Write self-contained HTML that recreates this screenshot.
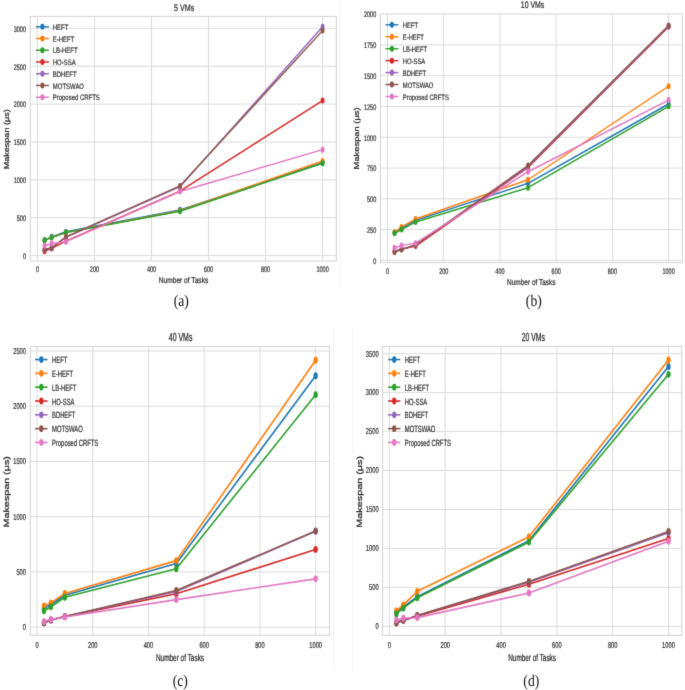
<!DOCTYPE html>
<html><head><meta charset="utf-8"><style>
html,body{margin:0;padding:0;background:#fff;}
svg{display:block;}
text{font-family:"Liberation Sans", sans-serif;text-rendering:geometricPrecision;}
text.serif{font-family:"Liberation Serif", serif;}
</style></head><body>
<svg width="685" height="690" viewBox="0 0 685 690">
<defs><filter id="bl" x="0" y="0" width="685" height="690" filterUnits="userSpaceOnUse" color-interpolation-filters="sRGB"><feConvolveMatrix order="3" kernelMatrix="0.01134 0.08382 0.01134 0.08382 0.61935 0.08382 0.01134 0.08382 0.01134" edgeMode="duplicate" preserveAlpha="false"/></filter></defs>
<g filter="url(#bl)">
<rect width="685" height="690" fill="#fff"/>
<line x1="340.1" y1="0" x2="340.1" y2="289.4" stroke="#f3f3f3" stroke-width="1"/>
<line x1="333.5" y1="327.6" x2="333.5" y2="670.8" stroke="#f4f4f4" stroke-width="1"/>
<line x1="352.9" y1="327.6" x2="352.9" y2="670.8" stroke="#f4f4f4" stroke-width="1"/>
<line x1="37.40" y1="16.40" x2="37.40" y2="261.00" stroke="#dcdcdc" stroke-width="1"/>
<line x1="94.44" y1="16.40" x2="94.44" y2="261.00" stroke="#dcdcdc" stroke-width="1"/>
<line x1="151.48" y1="16.40" x2="151.48" y2="261.00" stroke="#dcdcdc" stroke-width="1"/>
<line x1="208.52" y1="16.40" x2="208.52" y2="261.00" stroke="#dcdcdc" stroke-width="1"/>
<line x1="265.56" y1="16.40" x2="265.56" y2="261.00" stroke="#dcdcdc" stroke-width="1"/>
<line x1="322.60" y1="16.40" x2="322.60" y2="261.00" stroke="#dcdcdc" stroke-width="1"/>
<line x1="30.40" y1="255.60" x2="336.30" y2="255.60" stroke="#dcdcdc" stroke-width="1"/>
<line x1="30.40" y1="217.72" x2="336.30" y2="217.72" stroke="#dcdcdc" stroke-width="1"/>
<line x1="30.40" y1="179.85" x2="336.30" y2="179.85" stroke="#dcdcdc" stroke-width="1"/>
<line x1="30.40" y1="141.97" x2="336.30" y2="141.97" stroke="#dcdcdc" stroke-width="1"/>
<line x1="30.40" y1="104.10" x2="336.30" y2="104.10" stroke="#dcdcdc" stroke-width="1"/>
<line x1="30.40" y1="66.22" x2="336.30" y2="66.22" stroke="#dcdcdc" stroke-width="1"/>
<line x1="30.40" y1="28.35" x2="336.30" y2="28.35" stroke="#dcdcdc" stroke-width="1"/>
<rect x="30.40" y="16.40" width="305.90" height="244.60" fill="none" stroke="#d8d8d8" stroke-width="1.1"/>
<polyline points="44.53,240.07 51.66,236.81 65.92,231.66 180.00,209.85 322.60,162.73" fill="none" stroke="#1f77b4" stroke-width="1.45" stroke-linejoin="round" stroke-linecap="round"/>
<ellipse cx="44.53" cy="240.07" rx="1.95" ry="3.0" fill="#1f77b4"/>
<ellipse cx="51.66" cy="236.81" rx="1.95" ry="3.0" fill="#1f77b4"/>
<ellipse cx="65.92" cy="231.66" rx="1.95" ry="3.0" fill="#1f77b4"/>
<ellipse cx="180.00" cy="209.85" rx="1.95" ry="3.0" fill="#1f77b4"/>
<ellipse cx="322.60" cy="162.73" rx="1.95" ry="3.0" fill="#1f77b4"/>
<polyline points="44.53,240.45 51.66,237.42 65.92,232.57 180.00,210.76 322.60,160.99" fill="none" stroke="#ff7f0e" stroke-width="1.45" stroke-linejoin="round" stroke-linecap="round"/>
<ellipse cx="44.53" cy="240.45" rx="1.95" ry="3.0" fill="#ff7f0e"/>
<ellipse cx="51.66" cy="237.42" rx="1.95" ry="3.0" fill="#ff7f0e"/>
<ellipse cx="65.92" cy="232.57" rx="1.95" ry="3.0" fill="#ff7f0e"/>
<ellipse cx="180.00" cy="210.76" rx="1.95" ry="3.0" fill="#ff7f0e"/>
<ellipse cx="322.60" cy="160.99" rx="1.95" ry="3.0" fill="#ff7f0e"/>
<polyline points="44.53,240.45 51.66,237.57 65.92,232.57 180.00,211.21 322.60,163.19" fill="none" stroke="#2ca02c" stroke-width="1.45" stroke-linejoin="round" stroke-linecap="round"/>
<ellipse cx="44.53" cy="240.45" rx="1.95" ry="3.0" fill="#2ca02c"/>
<ellipse cx="51.66" cy="237.57" rx="1.95" ry="3.0" fill="#2ca02c"/>
<ellipse cx="65.92" cy="232.57" rx="1.95" ry="3.0" fill="#2ca02c"/>
<ellipse cx="180.00" cy="211.21" rx="1.95" ry="3.0" fill="#2ca02c"/>
<ellipse cx="322.60" cy="163.19" rx="1.95" ry="3.0" fill="#2ca02c"/>
<polyline points="44.53,251.21 51.66,248.40 65.92,241.21 180.00,191.06 322.60,100.62" fill="none" stroke="#d62728" stroke-width="1.45" stroke-linejoin="round" stroke-linecap="round"/>
<ellipse cx="44.53" cy="251.21" rx="1.95" ry="3.0" fill="#d62728"/>
<ellipse cx="51.66" cy="248.40" rx="1.95" ry="3.0" fill="#d62728"/>
<ellipse cx="65.92" cy="241.21" rx="1.95" ry="3.0" fill="#d62728"/>
<ellipse cx="180.00" cy="191.06" rx="1.95" ry="3.0" fill="#d62728"/>
<ellipse cx="322.60" cy="100.62" rx="1.95" ry="3.0" fill="#d62728"/>
<polyline points="44.53,249.69 51.66,248.03 65.92,237.42 180.00,186.67 322.60,26.84" fill="none" stroke="#9467bd" stroke-width="1.45" stroke-linejoin="round" stroke-linecap="round"/>
<ellipse cx="44.53" cy="249.69" rx="1.95" ry="3.0" fill="#9467bd"/>
<ellipse cx="51.66" cy="248.03" rx="1.95" ry="3.0" fill="#9467bd"/>
<ellipse cx="65.92" cy="237.42" rx="1.95" ry="3.0" fill="#9467bd"/>
<ellipse cx="180.00" cy="186.67" rx="1.95" ry="3.0" fill="#9467bd"/>
<ellipse cx="322.60" cy="26.84" rx="1.95" ry="3.0" fill="#9467bd"/>
<polyline points="44.53,249.54 51.66,247.80 65.92,236.81 180.00,185.91 322.60,30.62" fill="none" stroke="#8c564b" stroke-width="1.45" stroke-linejoin="round" stroke-linecap="round"/>
<ellipse cx="44.53" cy="249.54" rx="1.95" ry="3.0" fill="#8c564b"/>
<ellipse cx="51.66" cy="247.80" rx="1.95" ry="3.0" fill="#8c564b"/>
<ellipse cx="65.92" cy="236.81" rx="1.95" ry="3.0" fill="#8c564b"/>
<ellipse cx="180.00" cy="185.91" rx="1.95" ry="3.0" fill="#8c564b"/>
<ellipse cx="322.60" cy="30.62" rx="1.95" ry="3.0" fill="#8c564b"/>
<polyline points="44.53,245.75 51.66,243.48 65.92,241.66 180.00,191.52 322.60,149.63" fill="none" stroke="#e377c2" stroke-width="1.45" stroke-linejoin="round" stroke-linecap="round"/>
<ellipse cx="44.53" cy="245.75" rx="1.95" ry="3.0" fill="#e377c2"/>
<ellipse cx="51.66" cy="243.48" rx="1.95" ry="3.0" fill="#e377c2"/>
<ellipse cx="65.92" cy="241.66" rx="1.95" ry="3.0" fill="#e377c2"/>
<ellipse cx="180.00" cy="191.52" rx="1.95" ry="3.0" fill="#e377c2"/>
<ellipse cx="322.60" cy="149.63" rx="1.95" ry="3.0" fill="#e377c2"/>
<line x1="35.90" y1="26.80" x2="48.90" y2="26.80" stroke="#1f77b4" stroke-width="1.45"/>
<ellipse cx="42.40" cy="26.80" rx="2.1" ry="3.0" fill="#1f77b4"/>
<line x1="35.90" y1="38.53" x2="48.90" y2="38.53" stroke="#ff7f0e" stroke-width="1.45"/>
<ellipse cx="42.40" cy="38.53" rx="2.1" ry="3.0" fill="#ff7f0e"/>
<line x1="35.90" y1="50.26" x2="48.90" y2="50.26" stroke="#2ca02c" stroke-width="1.45"/>
<ellipse cx="42.40" cy="50.26" rx="2.1" ry="3.0" fill="#2ca02c"/>
<line x1="35.90" y1="61.99" x2="48.90" y2="61.99" stroke="#d62728" stroke-width="1.45"/>
<ellipse cx="42.40" cy="61.99" rx="2.1" ry="3.0" fill="#d62728"/>
<line x1="35.90" y1="73.72" x2="48.90" y2="73.72" stroke="#9467bd" stroke-width="1.45"/>
<ellipse cx="42.40" cy="73.72" rx="2.1" ry="3.0" fill="#9467bd"/>
<line x1="35.90" y1="85.45" x2="48.90" y2="85.45" stroke="#8c564b" stroke-width="1.45"/>
<ellipse cx="42.40" cy="85.45" rx="2.1" ry="3.0" fill="#8c564b"/>
<line x1="35.90" y1="97.18" x2="48.90" y2="97.18" stroke="#e377c2" stroke-width="1.45"/>
<ellipse cx="42.40" cy="97.18" rx="2.1" ry="3.0" fill="#e377c2"/>
<text transform="translate(52.80,30.00) scale(0.754,1.000)" font-size="7.9" fill="#2e2e2e" stroke="#2e2e2e" stroke-width="0.20">HEFT</text>
<text transform="translate(52.80,41.73) scale(0.754,1.000)" font-size="7.9" fill="#2e2e2e" stroke="#2e2e2e" stroke-width="0.20">E-HEFT</text>
<text transform="translate(52.80,53.46) scale(0.754,1.000)" font-size="7.9" fill="#2e2e2e" stroke="#2e2e2e" stroke-width="0.20">LB-HEFT</text>
<text transform="translate(52.80,65.19) scale(0.754,1.000)" font-size="7.9" fill="#2e2e2e" stroke="#2e2e2e" stroke-width="0.20">HO-SSA</text>
<text transform="translate(52.80,76.92) scale(0.754,1.000)" font-size="7.9" fill="#2e2e2e" stroke="#2e2e2e" stroke-width="0.20">BDHEFT</text>
<text transform="translate(52.80,88.65) scale(0.754,1.000)" font-size="7.9" fill="#2e2e2e" stroke="#2e2e2e" stroke-width="0.20">MOTSWAO</text>
<text transform="translate(52.80,100.38) scale(0.754,1.000)" font-size="7.9" fill="#2e2e2e" stroke="#2e2e2e" stroke-width="0.20">Proposed CRFTS</text>
<text transform="translate(37.40,271.60) scale(0.680,1.000)" font-size="8.07" text-anchor="middle" fill="#2e2e2e" stroke="#2e2e2e" stroke-width="0.22">0</text>
<text transform="translate(94.44,271.60) scale(0.680,1.000)" font-size="8.07" text-anchor="middle" fill="#2e2e2e" stroke="#2e2e2e" stroke-width="0.22">200</text>
<text transform="translate(151.48,271.60) scale(0.680,1.000)" font-size="8.07" text-anchor="middle" fill="#2e2e2e" stroke="#2e2e2e" stroke-width="0.22">400</text>
<text transform="translate(208.52,271.60) scale(0.680,1.000)" font-size="8.07" text-anchor="middle" fill="#2e2e2e" stroke="#2e2e2e" stroke-width="0.22">600</text>
<text transform="translate(265.56,271.60) scale(0.680,1.000)" font-size="8.07" text-anchor="middle" fill="#2e2e2e" stroke="#2e2e2e" stroke-width="0.22">800</text>
<text transform="translate(322.60,271.60) scale(0.680,1.000)" font-size="8.07" text-anchor="middle" fill="#2e2e2e" stroke="#2e2e2e" stroke-width="0.22">1000</text>
<text transform="translate(25.95,258.89) scale(0.680,1.000)" font-size="8.07" text-anchor="end" fill="#2e2e2e" stroke="#2e2e2e" stroke-width="0.22">0</text>
<text transform="translate(25.95,221.01) scale(0.680,1.000)" font-size="8.07" text-anchor="end" fill="#2e2e2e" stroke="#2e2e2e" stroke-width="0.22">500</text>
<text transform="translate(25.95,183.14) scale(0.680,1.000)" font-size="8.07" text-anchor="end" fill="#2e2e2e" stroke="#2e2e2e" stroke-width="0.22">1000</text>
<text transform="translate(25.95,145.26) scale(0.680,1.000)" font-size="8.07" text-anchor="end" fill="#2e2e2e" stroke="#2e2e2e" stroke-width="0.22">1500</text>
<text transform="translate(25.95,107.39) scale(0.680,1.000)" font-size="8.07" text-anchor="end" fill="#2e2e2e" stroke="#2e2e2e" stroke-width="0.22">2000</text>
<text transform="translate(25.95,69.51) scale(0.680,1.000)" font-size="8.07" text-anchor="end" fill="#2e2e2e" stroke="#2e2e2e" stroke-width="0.22">2500</text>
<text transform="translate(25.95,31.64) scale(0.680,1.000)" font-size="8.07" text-anchor="end" fill="#2e2e2e" stroke="#2e2e2e" stroke-width="0.22">3000</text>
<text transform="translate(184.10,11.00) scale(0.750,1.000)" font-size="9.5" text-anchor="middle" fill="#222" stroke="#222" stroke-width="0.20">5 VMs</text>
<text transform="translate(183.50,283.00) scale(0.797,1.000)" font-size="8.3" text-anchor="middle" fill="#262626" stroke="#262626" stroke-width="0.19">Number of Tasks</text>
<text transform="translate(8.80,139.30) rotate(-90) scale(1.090,0.88)" font-size="8.3" text-anchor="middle" fill="#262626" stroke="#262626" stroke-width="0.25">Makespan (μs)</text>
<text class="serif" font-size="16.3" text-anchor="middle" fill="#111" transform="translate(181.30,305.90) scale(0.84,1)">(a)</text>
<line x1="387.50" y1="14.00" x2="387.50" y2="262.60" stroke="#dcdcdc" stroke-width="1"/>
<line x1="443.72" y1="14.00" x2="443.72" y2="262.60" stroke="#dcdcdc" stroke-width="1"/>
<line x1="499.94" y1="14.00" x2="499.94" y2="262.60" stroke="#dcdcdc" stroke-width="1"/>
<line x1="556.16" y1="14.00" x2="556.16" y2="262.60" stroke="#dcdcdc" stroke-width="1"/>
<line x1="612.38" y1="14.00" x2="612.38" y2="262.60" stroke="#dcdcdc" stroke-width="1"/>
<line x1="668.60" y1="14.00" x2="668.60" y2="262.60" stroke="#dcdcdc" stroke-width="1"/>
<line x1="380.40" y1="260.40" x2="682.30" y2="260.40" stroke="#dcdcdc" stroke-width="1"/>
<line x1="380.40" y1="229.61" x2="682.30" y2="229.61" stroke="#dcdcdc" stroke-width="1"/>
<line x1="380.40" y1="198.82" x2="682.30" y2="198.82" stroke="#dcdcdc" stroke-width="1"/>
<line x1="380.40" y1="168.04" x2="682.30" y2="168.04" stroke="#dcdcdc" stroke-width="1"/>
<line x1="380.40" y1="137.25" x2="682.30" y2="137.25" stroke="#dcdcdc" stroke-width="1"/>
<line x1="380.40" y1="106.46" x2="682.30" y2="106.46" stroke="#dcdcdc" stroke-width="1"/>
<line x1="380.40" y1="75.67" x2="682.30" y2="75.67" stroke="#dcdcdc" stroke-width="1"/>
<line x1="380.40" y1="44.89" x2="682.30" y2="44.89" stroke="#dcdcdc" stroke-width="1"/>
<rect x="380.40" y="14.00" width="301.90" height="248.60" fill="none" stroke="#d8d8d8" stroke-width="1.1"/>
<polyline points="394.53,232.69 401.56,228.13 415.61,220.38 528.05,183.31 668.60,104.00" fill="none" stroke="#1f77b4" stroke-width="1.45" stroke-linejoin="round" stroke-linecap="round"/>
<ellipse cx="394.53" cy="232.69" rx="1.95" ry="3.0" fill="#1f77b4"/>
<ellipse cx="401.56" cy="228.13" rx="1.95" ry="3.0" fill="#1f77b4"/>
<ellipse cx="415.61" cy="220.38" rx="1.95" ry="3.0" fill="#1f77b4"/>
<ellipse cx="528.05" cy="183.31" rx="1.95" ry="3.0" fill="#1f77b4"/>
<ellipse cx="668.60" cy="104.00" rx="1.95" ry="3.0" fill="#1f77b4"/>
<polyline points="394.53,232.32 401.56,226.90 415.61,219.02 528.05,179.74 668.60,86.27" fill="none" stroke="#ff7f0e" stroke-width="1.45" stroke-linejoin="round" stroke-linecap="round"/>
<ellipse cx="394.53" cy="232.32" rx="1.95" ry="3.0" fill="#ff7f0e"/>
<ellipse cx="401.56" cy="226.90" rx="1.95" ry="3.0" fill="#ff7f0e"/>
<ellipse cx="415.61" cy="219.02" rx="1.95" ry="3.0" fill="#ff7f0e"/>
<ellipse cx="528.05" cy="179.74" rx="1.95" ry="3.0" fill="#ff7f0e"/>
<ellipse cx="668.60" cy="86.27" rx="1.95" ry="3.0" fill="#ff7f0e"/>
<polyline points="394.53,233.31 401.56,229.61 415.61,221.98 528.05,187.74 668.60,106.34" fill="none" stroke="#2ca02c" stroke-width="1.45" stroke-linejoin="round" stroke-linecap="round"/>
<ellipse cx="394.53" cy="233.31" rx="1.95" ry="3.0" fill="#2ca02c"/>
<ellipse cx="401.56" cy="229.61" rx="1.95" ry="3.0" fill="#2ca02c"/>
<ellipse cx="415.61" cy="221.98" rx="1.95" ry="3.0" fill="#2ca02c"/>
<ellipse cx="528.05" cy="187.74" rx="1.95" ry="3.0" fill="#2ca02c"/>
<ellipse cx="668.60" cy="106.34" rx="1.95" ry="3.0" fill="#2ca02c"/>
<polyline points="394.53,251.16 401.56,249.07 415.61,246.11 528.05,167.42 668.60,26.78" fill="none" stroke="#d62728" stroke-width="1.45" stroke-linejoin="round" stroke-linecap="round"/>
<ellipse cx="394.53" cy="251.16" rx="1.95" ry="3.0" fill="#d62728"/>
<ellipse cx="401.56" cy="249.07" rx="1.95" ry="3.0" fill="#d62728"/>
<ellipse cx="415.61" cy="246.11" rx="1.95" ry="3.0" fill="#d62728"/>
<ellipse cx="528.05" cy="167.42" rx="1.95" ry="3.0" fill="#d62728"/>
<ellipse cx="668.60" cy="26.78" rx="1.95" ry="3.0" fill="#d62728"/>
<polyline points="394.53,251.78 401.56,249.32 415.61,245.01 528.05,166.56 668.60,26.17" fill="none" stroke="#9467bd" stroke-width="1.45" stroke-linejoin="round" stroke-linecap="round"/>
<ellipse cx="394.53" cy="251.78" rx="1.95" ry="3.0" fill="#9467bd"/>
<ellipse cx="401.56" cy="249.32" rx="1.95" ry="3.0" fill="#9467bd"/>
<ellipse cx="415.61" cy="245.01" rx="1.95" ry="3.0" fill="#9467bd"/>
<ellipse cx="528.05" cy="166.56" rx="1.95" ry="3.0" fill="#9467bd"/>
<ellipse cx="668.60" cy="26.17" rx="1.95" ry="3.0" fill="#9467bd"/>
<polyline points="394.53,252.15 401.56,249.56 415.61,245.01 528.05,165.57 668.60,25.55" fill="none" stroke="#8c564b" stroke-width="1.45" stroke-linejoin="round" stroke-linecap="round"/>
<ellipse cx="394.53" cy="252.15" rx="1.95" ry="3.0" fill="#8c564b"/>
<ellipse cx="401.56" cy="249.56" rx="1.95" ry="3.0" fill="#8c564b"/>
<ellipse cx="415.61" cy="245.01" rx="1.95" ry="3.0" fill="#8c564b"/>
<ellipse cx="528.05" cy="165.57" rx="1.95" ry="3.0" fill="#8c564b"/>
<ellipse cx="668.60" cy="25.55" rx="1.95" ry="3.0" fill="#8c564b"/>
<polyline points="394.53,247.72 401.56,245.62 415.61,243.16 528.05,171.73 668.60,100.06" fill="none" stroke="#e377c2" stroke-width="1.45" stroke-linejoin="round" stroke-linecap="round"/>
<ellipse cx="394.53" cy="247.72" rx="1.95" ry="3.0" fill="#e377c2"/>
<ellipse cx="401.56" cy="245.62" rx="1.95" ry="3.0" fill="#e377c2"/>
<ellipse cx="415.61" cy="243.16" rx="1.95" ry="3.0" fill="#e377c2"/>
<ellipse cx="528.05" cy="171.73" rx="1.95" ry="3.0" fill="#e377c2"/>
<ellipse cx="668.60" cy="100.06" rx="1.95" ry="3.0" fill="#e377c2"/>
<line x1="385.50" y1="24.80" x2="398.30" y2="24.80" stroke="#1f77b4" stroke-width="1.45"/>
<ellipse cx="391.90" cy="24.80" rx="2.1" ry="3.0" fill="#1f77b4"/>
<line x1="385.50" y1="36.75" x2="398.30" y2="36.75" stroke="#ff7f0e" stroke-width="1.45"/>
<ellipse cx="391.90" cy="36.75" rx="2.1" ry="3.0" fill="#ff7f0e"/>
<line x1="385.50" y1="48.70" x2="398.30" y2="48.70" stroke="#2ca02c" stroke-width="1.45"/>
<ellipse cx="391.90" cy="48.70" rx="2.1" ry="3.0" fill="#2ca02c"/>
<line x1="385.50" y1="60.65" x2="398.30" y2="60.65" stroke="#d62728" stroke-width="1.45"/>
<ellipse cx="391.90" cy="60.65" rx="2.1" ry="3.0" fill="#d62728"/>
<line x1="385.50" y1="72.60" x2="398.30" y2="72.60" stroke="#9467bd" stroke-width="1.45"/>
<ellipse cx="391.90" cy="72.60" rx="2.1" ry="3.0" fill="#9467bd"/>
<line x1="385.50" y1="84.55" x2="398.30" y2="84.55" stroke="#8c564b" stroke-width="1.45"/>
<ellipse cx="391.90" cy="84.55" rx="2.1" ry="3.0" fill="#8c564b"/>
<line x1="385.50" y1="96.50" x2="398.30" y2="96.50" stroke="#e377c2" stroke-width="1.45"/>
<ellipse cx="391.90" cy="96.50" rx="2.1" ry="3.0" fill="#e377c2"/>
<text transform="translate(402.80,28.00) scale(0.739,1.000)" font-size="7.9" fill="#2e2e2e" stroke="#2e2e2e" stroke-width="0.20">HEFT</text>
<text transform="translate(402.80,39.95) scale(0.739,1.000)" font-size="7.9" fill="#2e2e2e" stroke="#2e2e2e" stroke-width="0.20">E-HEFT</text>
<text transform="translate(402.80,51.90) scale(0.739,1.000)" font-size="7.9" fill="#2e2e2e" stroke="#2e2e2e" stroke-width="0.20">LB-HEFT</text>
<text transform="translate(402.80,63.85) scale(0.739,1.000)" font-size="7.9" fill="#2e2e2e" stroke="#2e2e2e" stroke-width="0.20">HO-SSA</text>
<text transform="translate(402.80,75.80) scale(0.739,1.000)" font-size="7.9" fill="#2e2e2e" stroke="#2e2e2e" stroke-width="0.20">BDHEFT</text>
<text transform="translate(402.80,87.75) scale(0.739,1.000)" font-size="7.9" fill="#2e2e2e" stroke="#2e2e2e" stroke-width="0.20">MOTSWAO</text>
<text transform="translate(402.80,99.70) scale(0.739,1.000)" font-size="7.9" fill="#2e2e2e" stroke="#2e2e2e" stroke-width="0.20">Proposed CRFTS</text>
<text transform="translate(387.50,274.00) scale(0.680,1.000)" font-size="8.07" text-anchor="middle" fill="#2e2e2e" stroke="#2e2e2e" stroke-width="0.22">0</text>
<text transform="translate(443.72,274.00) scale(0.680,1.000)" font-size="8.07" text-anchor="middle" fill="#2e2e2e" stroke="#2e2e2e" stroke-width="0.22">200</text>
<text transform="translate(499.94,274.00) scale(0.680,1.000)" font-size="8.07" text-anchor="middle" fill="#2e2e2e" stroke="#2e2e2e" stroke-width="0.22">400</text>
<text transform="translate(556.16,274.00) scale(0.680,1.000)" font-size="8.07" text-anchor="middle" fill="#2e2e2e" stroke="#2e2e2e" stroke-width="0.22">600</text>
<text transform="translate(612.38,274.00) scale(0.680,1.000)" font-size="8.07" text-anchor="middle" fill="#2e2e2e" stroke="#2e2e2e" stroke-width="0.22">800</text>
<text transform="translate(668.60,274.00) scale(0.680,1.000)" font-size="8.07" text-anchor="middle" fill="#2e2e2e" stroke="#2e2e2e" stroke-width="0.22">1000</text>
<text transform="translate(376.20,263.69) scale(0.680,1.000)" font-size="8.07" text-anchor="end" fill="#2e2e2e" stroke="#2e2e2e" stroke-width="0.22">0</text>
<text transform="translate(376.20,232.90) scale(0.680,1.000)" font-size="8.07" text-anchor="end" fill="#2e2e2e" stroke="#2e2e2e" stroke-width="0.22">250</text>
<text transform="translate(376.20,202.11) scale(0.680,1.000)" font-size="8.07" text-anchor="end" fill="#2e2e2e" stroke="#2e2e2e" stroke-width="0.22">500</text>
<text transform="translate(376.20,171.33) scale(0.680,1.000)" font-size="8.07" text-anchor="end" fill="#2e2e2e" stroke="#2e2e2e" stroke-width="0.22">750</text>
<text transform="translate(376.20,140.54) scale(0.680,1.000)" font-size="8.07" text-anchor="end" fill="#2e2e2e" stroke="#2e2e2e" stroke-width="0.22">1000</text>
<text transform="translate(376.20,109.75) scale(0.680,1.000)" font-size="8.07" text-anchor="end" fill="#2e2e2e" stroke="#2e2e2e" stroke-width="0.22">1250</text>
<text transform="translate(376.20,78.96) scale(0.680,1.000)" font-size="8.07" text-anchor="end" fill="#2e2e2e" stroke="#2e2e2e" stroke-width="0.22">1500</text>
<text transform="translate(376.20,48.18) scale(0.680,1.000)" font-size="8.07" text-anchor="end" fill="#2e2e2e" stroke="#2e2e2e" stroke-width="0.22">1750</text>
<text transform="translate(376.20,17.39) scale(0.680,1.000)" font-size="8.07" text-anchor="end" fill="#2e2e2e" stroke="#2e2e2e" stroke-width="0.22">2000</text>
<text transform="translate(532.50,8.40) scale(0.727,1.000)" font-size="9.5" text-anchor="middle" fill="#222" stroke="#222" stroke-width="0.21">10 VMs</text>
<text transform="translate(531.30,285.40) scale(0.782,1.000)" font-size="8.3" text-anchor="middle" fill="#262626" stroke="#262626" stroke-width="0.19">Number of Tasks</text>
<text transform="translate(359.30,138.40) rotate(-90) scale(1.126,0.88)" font-size="8.3" text-anchor="middle" fill="#262626" stroke="#262626" stroke-width="0.25">Makespan (μs)</text>
<text class="serif" font-size="16.3" text-anchor="middle" fill="#111" transform="translate(533.80,305.50) scale(0.84,1)">(b)</text>
<line x1="37.00" y1="346.60" x2="37.00" y2="635.30" stroke="#dcdcdc" stroke-width="1"/>
<line x1="92.73" y1="346.60" x2="92.73" y2="635.30" stroke="#dcdcdc" stroke-width="1"/>
<line x1="148.46" y1="346.60" x2="148.46" y2="635.30" stroke="#dcdcdc" stroke-width="1"/>
<line x1="204.19" y1="346.60" x2="204.19" y2="635.30" stroke="#dcdcdc" stroke-width="1"/>
<line x1="259.92" y1="346.60" x2="259.92" y2="635.30" stroke="#dcdcdc" stroke-width="1"/>
<line x1="315.65" y1="346.60" x2="315.65" y2="635.30" stroke="#dcdcdc" stroke-width="1"/>
<line x1="30.40" y1="627.10" x2="329.50" y2="627.10" stroke="#dcdcdc" stroke-width="1"/>
<line x1="30.40" y1="571.88" x2="329.50" y2="571.88" stroke="#dcdcdc" stroke-width="1"/>
<line x1="30.40" y1="516.66" x2="329.50" y2="516.66" stroke="#dcdcdc" stroke-width="1"/>
<line x1="30.40" y1="461.44" x2="329.50" y2="461.44" stroke="#dcdcdc" stroke-width="1"/>
<line x1="30.40" y1="406.22" x2="329.50" y2="406.22" stroke="#dcdcdc" stroke-width="1"/>
<line x1="30.40" y1="351.00" x2="329.50" y2="351.00" stroke="#dcdcdc" stroke-width="1"/>
<rect x="30.40" y="346.60" width="299.10" height="288.70" fill="none" stroke="#d8d8d8" stroke-width="1.1"/>
<polyline points="43.97,608.33 50.93,604.46 64.86,595.29 176.32,563.49 315.65,375.74" fill="none" stroke="#1f77b4" stroke-width="1.6" stroke-linejoin="round" stroke-linecap="round"/>
<ellipse cx="43.97" cy="608.33" rx="2.15" ry="3.4" fill="#1f77b4"/>
<ellipse cx="50.93" cy="604.46" rx="2.15" ry="3.4" fill="#1f77b4"/>
<ellipse cx="64.86" cy="595.29" rx="2.15" ry="3.4" fill="#1f77b4"/>
<ellipse cx="176.32" cy="563.49" rx="2.15" ry="3.4" fill="#1f77b4"/>
<ellipse cx="315.65" cy="375.74" rx="2.15" ry="3.4" fill="#1f77b4"/>
<polyline points="43.97,605.90 50.93,602.80 64.86,593.42 176.32,560.62 315.65,360.17" fill="none" stroke="#ff7f0e" stroke-width="1.6" stroke-linejoin="round" stroke-linecap="round"/>
<ellipse cx="43.97" cy="605.90" rx="2.15" ry="3.4" fill="#ff7f0e"/>
<ellipse cx="50.93" cy="602.80" rx="2.15" ry="3.4" fill="#ff7f0e"/>
<ellipse cx="64.86" cy="593.42" rx="2.15" ry="3.4" fill="#ff7f0e"/>
<ellipse cx="176.32" cy="560.62" rx="2.15" ry="3.4" fill="#ff7f0e"/>
<ellipse cx="315.65" cy="360.17" rx="2.15" ry="3.4" fill="#ff7f0e"/>
<polyline points="43.97,610.75 50.93,606.78 64.86,597.28 176.32,568.68 315.65,394.73" fill="none" stroke="#2ca02c" stroke-width="1.6" stroke-linejoin="round" stroke-linecap="round"/>
<ellipse cx="43.97" cy="610.75" rx="2.15" ry="3.4" fill="#2ca02c"/>
<ellipse cx="50.93" cy="606.78" rx="2.15" ry="3.4" fill="#2ca02c"/>
<ellipse cx="64.86" cy="597.28" rx="2.15" ry="3.4" fill="#2ca02c"/>
<ellipse cx="176.32" cy="568.68" rx="2.15" ry="3.4" fill="#2ca02c"/>
<ellipse cx="315.65" cy="394.73" rx="2.15" ry="3.4" fill="#2ca02c"/>
<polyline points="43.97,622.68 50.93,619.92 64.86,616.61 176.32,593.75 315.65,549.46" fill="none" stroke="#d62728" stroke-width="1.6" stroke-linejoin="round" stroke-linecap="round"/>
<ellipse cx="43.97" cy="622.68" rx="2.15" ry="3.4" fill="#d62728"/>
<ellipse cx="50.93" cy="619.92" rx="2.15" ry="3.4" fill="#d62728"/>
<ellipse cx="64.86" cy="616.61" rx="2.15" ry="3.4" fill="#d62728"/>
<ellipse cx="176.32" cy="593.75" rx="2.15" ry="3.4" fill="#d62728"/>
<ellipse cx="315.65" cy="549.46" rx="2.15" ry="3.4" fill="#d62728"/>
<polyline points="43.97,623.12 50.93,620.25 64.86,616.61 176.32,591.54 315.65,531.24" fill="none" stroke="#9467bd" stroke-width="1.6" stroke-linejoin="round" stroke-linecap="round"/>
<ellipse cx="43.97" cy="623.12" rx="2.15" ry="3.4" fill="#9467bd"/>
<ellipse cx="50.93" cy="620.25" rx="2.15" ry="3.4" fill="#9467bd"/>
<ellipse cx="64.86" cy="616.61" rx="2.15" ry="3.4" fill="#9467bd"/>
<ellipse cx="176.32" cy="591.54" rx="2.15" ry="3.4" fill="#9467bd"/>
<ellipse cx="315.65" cy="531.24" rx="2.15" ry="3.4" fill="#9467bd"/>
<polyline points="43.97,622.68 50.93,619.81 64.86,616.50 176.32,590.43 315.65,530.91" fill="none" stroke="#8c564b" stroke-width="1.6" stroke-linejoin="round" stroke-linecap="round"/>
<ellipse cx="43.97" cy="622.68" rx="2.15" ry="3.4" fill="#8c564b"/>
<ellipse cx="50.93" cy="619.81" rx="2.15" ry="3.4" fill="#8c564b"/>
<ellipse cx="64.86" cy="616.50" rx="2.15" ry="3.4" fill="#8c564b"/>
<ellipse cx="176.32" cy="590.43" rx="2.15" ry="3.4" fill="#8c564b"/>
<ellipse cx="315.65" cy="530.91" rx="2.15" ry="3.4" fill="#8c564b"/>
<polyline points="43.97,621.58 50.93,619.37 64.86,616.94 176.32,599.60 315.65,578.84" fill="none" stroke="#e377c2" stroke-width="1.6" stroke-linejoin="round" stroke-linecap="round"/>
<ellipse cx="43.97" cy="621.58" rx="2.15" ry="3.4" fill="#e377c2"/>
<ellipse cx="50.93" cy="619.37" rx="2.15" ry="3.4" fill="#e377c2"/>
<ellipse cx="64.86" cy="616.94" rx="2.15" ry="3.4" fill="#e377c2"/>
<ellipse cx="176.32" cy="599.60" rx="2.15" ry="3.4" fill="#e377c2"/>
<ellipse cx="315.65" cy="578.84" rx="2.15" ry="3.4" fill="#e377c2"/>
<line x1="35.10" y1="359.55" x2="47.50" y2="359.55" stroke="#1f77b4" stroke-width="1.6"/>
<ellipse cx="41.30" cy="359.55" rx="2.1" ry="3.4" fill="#1f77b4"/>
<line x1="35.10" y1="373.37" x2="47.50" y2="373.37" stroke="#ff7f0e" stroke-width="1.6"/>
<ellipse cx="41.30" cy="373.37" rx="2.1" ry="3.4" fill="#ff7f0e"/>
<line x1="35.10" y1="387.19" x2="47.50" y2="387.19" stroke="#2ca02c" stroke-width="1.6"/>
<ellipse cx="41.30" cy="387.19" rx="2.1" ry="3.4" fill="#2ca02c"/>
<line x1="35.10" y1="401.01" x2="47.50" y2="401.01" stroke="#d62728" stroke-width="1.6"/>
<ellipse cx="41.30" cy="401.01" rx="2.1" ry="3.4" fill="#d62728"/>
<line x1="35.10" y1="414.83" x2="47.50" y2="414.83" stroke="#9467bd" stroke-width="1.6"/>
<ellipse cx="41.30" cy="414.83" rx="2.1" ry="3.4" fill="#9467bd"/>
<line x1="35.10" y1="428.65" x2="47.50" y2="428.65" stroke="#8c564b" stroke-width="1.6"/>
<ellipse cx="41.30" cy="428.65" rx="2.1" ry="3.4" fill="#8c564b"/>
<line x1="35.10" y1="442.47" x2="47.50" y2="442.47" stroke="#e377c2" stroke-width="1.6"/>
<ellipse cx="41.30" cy="442.47" rx="2.1" ry="3.4" fill="#e377c2"/>
<text transform="translate(52.00,363.05) scale(0.651,1.000)" font-size="9.0" fill="#2e2e2e" stroke="#2e2e2e" stroke-width="0.23">HEFT</text>
<text transform="translate(52.00,376.87) scale(0.651,1.000)" font-size="9.0" fill="#2e2e2e" stroke="#2e2e2e" stroke-width="0.23">E-HEFT</text>
<text transform="translate(52.00,390.69) scale(0.651,1.000)" font-size="9.0" fill="#2e2e2e" stroke="#2e2e2e" stroke-width="0.23">LB-HEFT</text>
<text transform="translate(52.00,404.51) scale(0.651,1.000)" font-size="9.0" fill="#2e2e2e" stroke="#2e2e2e" stroke-width="0.23">HO-SSA</text>
<text transform="translate(52.00,418.33) scale(0.651,1.000)" font-size="9.0" fill="#2e2e2e" stroke="#2e2e2e" stroke-width="0.23">BDHEFT</text>
<text transform="translate(52.00,432.15) scale(0.651,1.000)" font-size="9.0" fill="#2e2e2e" stroke="#2e2e2e" stroke-width="0.23">MOTSWAO</text>
<text transform="translate(52.00,445.97) scale(0.651,1.000)" font-size="9.0" fill="#2e2e2e" stroke="#2e2e2e" stroke-width="0.23">Proposed CRFTS</text>
<text transform="translate(37.00,647.60) scale(0.672,1.000)" font-size="8.55" text-anchor="middle" fill="#2e2e2e" stroke="#2e2e2e" stroke-width="0.22">0</text>
<text transform="translate(92.73,647.60) scale(0.672,1.000)" font-size="8.55" text-anchor="middle" fill="#2e2e2e" stroke="#2e2e2e" stroke-width="0.22">200</text>
<text transform="translate(148.46,647.60) scale(0.672,1.000)" font-size="8.55" text-anchor="middle" fill="#2e2e2e" stroke="#2e2e2e" stroke-width="0.22">400</text>
<text transform="translate(204.19,647.60) scale(0.672,1.000)" font-size="8.55" text-anchor="middle" fill="#2e2e2e" stroke="#2e2e2e" stroke-width="0.22">600</text>
<text transform="translate(259.92,647.60) scale(0.672,1.000)" font-size="8.55" text-anchor="middle" fill="#2e2e2e" stroke="#2e2e2e" stroke-width="0.22">800</text>
<text transform="translate(315.65,647.60) scale(0.672,1.000)" font-size="8.55" text-anchor="middle" fill="#2e2e2e" stroke="#2e2e2e" stroke-width="0.22">1000</text>
<text transform="translate(26.00,630.01) scale(0.672,1.000)" font-size="8.55" text-anchor="end" fill="#2e2e2e" stroke="#2e2e2e" stroke-width="0.22">0</text>
<text transform="translate(26.00,574.79) scale(0.672,1.000)" font-size="8.55" text-anchor="end" fill="#2e2e2e" stroke="#2e2e2e" stroke-width="0.22">500</text>
<text transform="translate(26.00,519.57) scale(0.672,1.000)" font-size="8.55" text-anchor="end" fill="#2e2e2e" stroke="#2e2e2e" stroke-width="0.22">1000</text>
<text transform="translate(26.00,464.35) scale(0.672,1.000)" font-size="8.55" text-anchor="end" fill="#2e2e2e" stroke="#2e2e2e" stroke-width="0.22">1500</text>
<text transform="translate(26.00,409.13) scale(0.672,1.000)" font-size="8.55" text-anchor="end" fill="#2e2e2e" stroke="#2e2e2e" stroke-width="0.22">2000</text>
<text transform="translate(26.00,353.91) scale(0.672,1.000)" font-size="8.55" text-anchor="end" fill="#2e2e2e" stroke="#2e2e2e" stroke-width="0.22">2500</text>
<text transform="translate(180.60,340.60) scale(0.600,1.000)" font-size="11.6" text-anchor="middle" fill="#222" stroke="#222" stroke-width="0.25">40 VMs</text>
<text transform="translate(180.00,661.10) scale(0.657,1.000)" font-size="9.8" text-anchor="middle" fill="#262626" stroke="#262626" stroke-width="0.23">Number of Tasks</text>
<text transform="translate(8.60,491.80) rotate(-90) scale(1.250,0.88)" font-size="8.6" text-anchor="middle" fill="#262626" stroke="#262626" stroke-width="0.25">Makespan (μs)</text>
<text class="serif" font-size="16.3" text-anchor="middle" fill="#111" transform="translate(180.30,685.70) scale(0.84,1)">(c)</text>
<line x1="389.40" y1="346.40" x2="389.40" y2="635.40" stroke="#dcdcdc" stroke-width="1"/>
<line x1="445.22" y1="346.40" x2="445.22" y2="635.40" stroke="#dcdcdc" stroke-width="1"/>
<line x1="501.04" y1="346.40" x2="501.04" y2="635.40" stroke="#dcdcdc" stroke-width="1"/>
<line x1="556.86" y1="346.40" x2="556.86" y2="635.40" stroke="#dcdcdc" stroke-width="1"/>
<line x1="612.68" y1="346.40" x2="612.68" y2="635.40" stroke="#dcdcdc" stroke-width="1"/>
<line x1="668.50" y1="346.40" x2="668.50" y2="635.40" stroke="#dcdcdc" stroke-width="1"/>
<line x1="382.60" y1="626.35" x2="681.70" y2="626.35" stroke="#dcdcdc" stroke-width="1"/>
<line x1="382.60" y1="587.38" x2="681.70" y2="587.38" stroke="#dcdcdc" stroke-width="1"/>
<line x1="382.60" y1="548.42" x2="681.70" y2="548.42" stroke="#dcdcdc" stroke-width="1"/>
<line x1="382.60" y1="509.46" x2="681.70" y2="509.46" stroke="#dcdcdc" stroke-width="1"/>
<line x1="382.60" y1="470.49" x2="681.70" y2="470.49" stroke="#dcdcdc" stroke-width="1"/>
<line x1="382.60" y1="431.53" x2="681.70" y2="431.53" stroke="#dcdcdc" stroke-width="1"/>
<line x1="382.60" y1="392.56" x2="681.70" y2="392.56" stroke="#dcdcdc" stroke-width="1"/>
<line x1="382.60" y1="353.60" x2="681.70" y2="353.60" stroke="#dcdcdc" stroke-width="1"/>
<rect x="382.60" y="346.40" width="299.10" height="289.00" fill="none" stroke="#d8d8d8" stroke-width="1.1"/>
<polyline points="396.38,612.32 403.35,606.87 417.31,596.74 528.95,540.63 668.50,366.53" fill="none" stroke="#1f77b4" stroke-width="1.6" stroke-linejoin="round" stroke-linecap="round"/>
<ellipse cx="396.38" cy="612.32" rx="2.15" ry="3.4" fill="#1f77b4"/>
<ellipse cx="403.35" cy="606.87" rx="2.15" ry="3.4" fill="#1f77b4"/>
<ellipse cx="417.31" cy="596.74" rx="2.15" ry="3.4" fill="#1f77b4"/>
<ellipse cx="528.95" cy="540.63" rx="2.15" ry="3.4" fill="#1f77b4"/>
<ellipse cx="668.50" cy="366.53" rx="2.15" ry="3.4" fill="#1f77b4"/>
<polyline points="396.38,610.92 403.35,604.92 417.31,591.28 528.95,536.81 668.50,359.99" fill="none" stroke="#ff7f0e" stroke-width="1.6" stroke-linejoin="round" stroke-linecap="round"/>
<ellipse cx="396.38" cy="610.92" rx="2.15" ry="3.4" fill="#ff7f0e"/>
<ellipse cx="403.35" cy="604.92" rx="2.15" ry="3.4" fill="#ff7f0e"/>
<ellipse cx="417.31" cy="591.28" rx="2.15" ry="3.4" fill="#ff7f0e"/>
<ellipse cx="528.95" cy="536.81" rx="2.15" ry="3.4" fill="#ff7f0e"/>
<ellipse cx="668.50" cy="359.99" rx="2.15" ry="3.4" fill="#ff7f0e"/>
<polyline points="396.38,613.88 403.35,608.04 417.31,597.83 528.95,542.03 668.50,374.32" fill="none" stroke="#2ca02c" stroke-width="1.6" stroke-linejoin="round" stroke-linecap="round"/>
<ellipse cx="396.38" cy="613.88" rx="2.15" ry="3.4" fill="#2ca02c"/>
<ellipse cx="403.35" cy="608.04" rx="2.15" ry="3.4" fill="#2ca02c"/>
<ellipse cx="417.31" cy="597.83" rx="2.15" ry="3.4" fill="#2ca02c"/>
<ellipse cx="528.95" cy="542.03" rx="2.15" ry="3.4" fill="#2ca02c"/>
<ellipse cx="668.50" cy="374.32" rx="2.15" ry="3.4" fill="#2ca02c"/>
<polyline points="396.38,622.45 403.35,620.12 417.31,616.22 528.95,584.27 668.50,538.60" fill="none" stroke="#d62728" stroke-width="1.6" stroke-linejoin="round" stroke-linecap="round"/>
<ellipse cx="396.38" cy="622.45" rx="2.15" ry="3.4" fill="#d62728"/>
<ellipse cx="403.35" cy="620.12" rx="2.15" ry="3.4" fill="#d62728"/>
<ellipse cx="417.31" cy="616.22" rx="2.15" ry="3.4" fill="#d62728"/>
<ellipse cx="528.95" cy="584.27" rx="2.15" ry="3.4" fill="#d62728"/>
<ellipse cx="668.50" cy="538.60" rx="2.15" ry="3.4" fill="#d62728"/>
<polyline points="396.38,622.84 403.35,620.27 417.31,615.44 528.95,582.32 668.50,532.83" fill="none" stroke="#9467bd" stroke-width="1.6" stroke-linejoin="round" stroke-linecap="round"/>
<ellipse cx="396.38" cy="622.84" rx="2.15" ry="3.4" fill="#9467bd"/>
<ellipse cx="403.35" cy="620.27" rx="2.15" ry="3.4" fill="#9467bd"/>
<ellipse cx="417.31" cy="615.44" rx="2.15" ry="3.4" fill="#9467bd"/>
<ellipse cx="528.95" cy="582.32" rx="2.15" ry="3.4" fill="#9467bd"/>
<ellipse cx="668.50" cy="532.83" rx="2.15" ry="3.4" fill="#9467bd"/>
<polyline points="396.38,623.00 403.35,620.43 417.31,615.44 528.95,581.38 668.50,531.43" fill="none" stroke="#8c564b" stroke-width="1.6" stroke-linejoin="round" stroke-linecap="round"/>
<ellipse cx="396.38" cy="623.00" rx="2.15" ry="3.4" fill="#8c564b"/>
<ellipse cx="403.35" cy="620.43" rx="2.15" ry="3.4" fill="#8c564b"/>
<ellipse cx="417.31" cy="615.44" rx="2.15" ry="3.4" fill="#8c564b"/>
<ellipse cx="528.95" cy="581.38" rx="2.15" ry="3.4" fill="#8c564b"/>
<ellipse cx="668.50" cy="531.43" rx="2.15" ry="3.4" fill="#8c564b"/>
<polyline points="396.38,620.12 403.35,618.17 417.31,617.62 528.95,593.00 668.50,541.17" fill="none" stroke="#e377c2" stroke-width="1.6" stroke-linejoin="round" stroke-linecap="round"/>
<ellipse cx="396.38" cy="620.12" rx="2.15" ry="3.4" fill="#e377c2"/>
<ellipse cx="403.35" cy="618.17" rx="2.15" ry="3.4" fill="#e377c2"/>
<ellipse cx="417.31" cy="617.62" rx="2.15" ry="3.4" fill="#e377c2"/>
<ellipse cx="528.95" cy="593.00" rx="2.15" ry="3.4" fill="#e377c2"/>
<ellipse cx="668.50" cy="541.17" rx="2.15" ry="3.4" fill="#e377c2"/>
<line x1="388.10" y1="359.55" x2="400.30" y2="359.55" stroke="#1f77b4" stroke-width="1.6"/>
<ellipse cx="394.20" cy="359.55" rx="2.1" ry="3.4" fill="#1f77b4"/>
<line x1="388.10" y1="373.37" x2="400.30" y2="373.37" stroke="#ff7f0e" stroke-width="1.6"/>
<ellipse cx="394.20" cy="373.37" rx="2.1" ry="3.4" fill="#ff7f0e"/>
<line x1="388.10" y1="387.19" x2="400.30" y2="387.19" stroke="#2ca02c" stroke-width="1.6"/>
<ellipse cx="394.20" cy="387.19" rx="2.1" ry="3.4" fill="#2ca02c"/>
<line x1="388.10" y1="401.01" x2="400.30" y2="401.01" stroke="#d62728" stroke-width="1.6"/>
<ellipse cx="394.20" cy="401.01" rx="2.1" ry="3.4" fill="#d62728"/>
<line x1="388.10" y1="414.83" x2="400.30" y2="414.83" stroke="#9467bd" stroke-width="1.6"/>
<ellipse cx="394.20" cy="414.83" rx="2.1" ry="3.4" fill="#9467bd"/>
<line x1="388.10" y1="428.65" x2="400.30" y2="428.65" stroke="#8c564b" stroke-width="1.6"/>
<ellipse cx="394.20" cy="428.65" rx="2.1" ry="3.4" fill="#8c564b"/>
<line x1="388.10" y1="442.47" x2="400.30" y2="442.47" stroke="#e377c2" stroke-width="1.6"/>
<ellipse cx="394.20" cy="442.47" rx="2.1" ry="3.4" fill="#e377c2"/>
<text transform="translate(404.80,363.05) scale(0.649,1.000)" font-size="9.0" fill="#2e2e2e" stroke="#2e2e2e" stroke-width="0.23">HEFT</text>
<text transform="translate(404.80,376.87) scale(0.649,1.000)" font-size="9.0" fill="#2e2e2e" stroke="#2e2e2e" stroke-width="0.23">E-HEFT</text>
<text transform="translate(404.80,390.69) scale(0.649,1.000)" font-size="9.0" fill="#2e2e2e" stroke="#2e2e2e" stroke-width="0.23">LB-HEFT</text>
<text transform="translate(404.80,404.51) scale(0.649,1.000)" font-size="9.0" fill="#2e2e2e" stroke="#2e2e2e" stroke-width="0.23">HO-SSA</text>
<text transform="translate(404.80,418.33) scale(0.649,1.000)" font-size="9.0" fill="#2e2e2e" stroke="#2e2e2e" stroke-width="0.23">BDHEFT</text>
<text transform="translate(404.80,432.15) scale(0.649,1.000)" font-size="9.0" fill="#2e2e2e" stroke="#2e2e2e" stroke-width="0.23">MOTSWAO</text>
<text transform="translate(404.80,445.97) scale(0.649,1.000)" font-size="9.0" fill="#2e2e2e" stroke="#2e2e2e" stroke-width="0.23">Proposed CRFTS</text>
<text transform="translate(389.40,647.60) scale(0.672,1.000)" font-size="8.55" text-anchor="middle" fill="#2e2e2e" stroke="#2e2e2e" stroke-width="0.22">0</text>
<text transform="translate(445.22,647.60) scale(0.672,1.000)" font-size="8.55" text-anchor="middle" fill="#2e2e2e" stroke="#2e2e2e" stroke-width="0.22">200</text>
<text transform="translate(501.04,647.60) scale(0.672,1.000)" font-size="8.55" text-anchor="middle" fill="#2e2e2e" stroke="#2e2e2e" stroke-width="0.22">400</text>
<text transform="translate(556.86,647.60) scale(0.672,1.000)" font-size="8.55" text-anchor="middle" fill="#2e2e2e" stroke="#2e2e2e" stroke-width="0.22">600</text>
<text transform="translate(612.68,647.60) scale(0.672,1.000)" font-size="8.55" text-anchor="middle" fill="#2e2e2e" stroke="#2e2e2e" stroke-width="0.22">800</text>
<text transform="translate(668.50,647.60) scale(0.672,1.000)" font-size="8.55" text-anchor="middle" fill="#2e2e2e" stroke="#2e2e2e" stroke-width="0.22">1000</text>
<text transform="translate(378.60,629.26) scale(0.672,1.000)" font-size="8.55" text-anchor="end" fill="#2e2e2e" stroke="#2e2e2e" stroke-width="0.22">0</text>
<text transform="translate(378.60,590.30) scale(0.672,1.000)" font-size="8.55" text-anchor="end" fill="#2e2e2e" stroke="#2e2e2e" stroke-width="0.22">500</text>
<text transform="translate(378.60,551.33) scale(0.672,1.000)" font-size="8.55" text-anchor="end" fill="#2e2e2e" stroke="#2e2e2e" stroke-width="0.22">1000</text>
<text transform="translate(378.60,512.37) scale(0.672,1.000)" font-size="8.55" text-anchor="end" fill="#2e2e2e" stroke="#2e2e2e" stroke-width="0.22">1500</text>
<text transform="translate(378.60,473.40) scale(0.672,1.000)" font-size="8.55" text-anchor="end" fill="#2e2e2e" stroke="#2e2e2e" stroke-width="0.22">2000</text>
<text transform="translate(378.60,434.44) scale(0.672,1.000)" font-size="8.55" text-anchor="end" fill="#2e2e2e" stroke="#2e2e2e" stroke-width="0.22">2500</text>
<text transform="translate(378.60,395.47) scale(0.672,1.000)" font-size="8.55" text-anchor="end" fill="#2e2e2e" stroke="#2e2e2e" stroke-width="0.22">3000</text>
<text transform="translate(378.60,356.51) scale(0.672,1.000)" font-size="8.55" text-anchor="end" fill="#2e2e2e" stroke="#2e2e2e" stroke-width="0.22">3500</text>
<text transform="translate(533.30,340.60) scale(0.593,1.000)" font-size="11.6" text-anchor="middle" fill="#222" stroke="#222" stroke-width="0.25">20 VMs</text>
<text transform="translate(532.10,661.10) scale(0.650,1.000)" font-size="9.8" text-anchor="middle" fill="#262626" stroke="#262626" stroke-width="0.23">Number of Tasks</text>
<text transform="translate(362.30,491.80) rotate(-90) scale(1.260,0.88)" font-size="8.6" text-anchor="middle" fill="#262626" stroke="#262626" stroke-width="0.25">Makespan (μs)</text>
<text class="serif" font-size="16.3" text-anchor="middle" fill="#111" transform="translate(531.30,685.70) scale(0.84,1)">(d)</text>
</g>
</svg>
</body></html>
